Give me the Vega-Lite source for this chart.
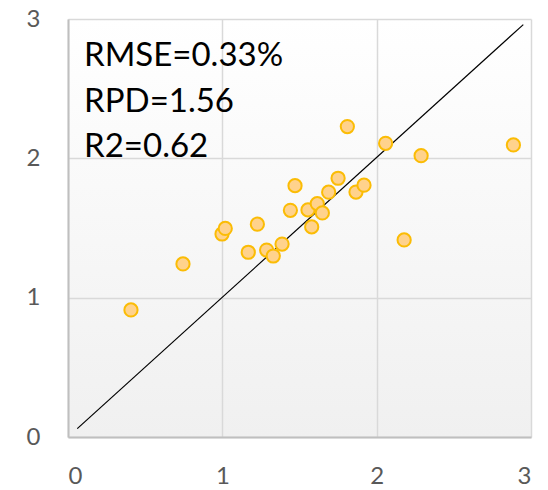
{
  "$schema": "https://vega.github.io/schema/vega-lite/v6.json",
  "autosize": "none",
  "padding": {"left": 68, "top": 19, "right": 17, "bottom": 53},
  "width": 463,
  "height": 418,
  "config": {
    "view": {
      "stroke": null,
      "fill": {"gradient": "linear", "x1": 0, "y1": 0, "x2": 0, "y2": 1, "stops": [{"offset": 0, "color": "#ffffff"}, {"offset": 1, "color": "#f0f0f0"}]}
    },
    "axis": {
      "labelFont": "Lato",
      "labelFontSize": 24,
      "labelColor": "#595959",
      "ticks": false,
      "gridColor": "#d9d9d9",
      "gridWidth": 1.5,
      "domainColor": "#bfbfbf",
      "domainWidth": 2,
      "title": null,
      "format": "d"
    }
  },
  "datasets": {
    "points": [
      {"measured": 0.408, "predicted": 0.912},
      {"measured": 0.745, "predicted": 1.242},
      {"measured": 0.998, "predicted": 1.457},
      {"measured": 1.019, "predicted": 1.497},
      {"measured": 1.168, "predicted": 1.326},
      {"measured": 1.227, "predicted": 1.527},
      {"measured": 1.287, "predicted": 1.342},
      {"measured": 1.330, "predicted": 1.299},
      {"measured": 1.387, "predicted": 1.385},
      {"measured": 1.441, "predicted": 1.627},
      {"measured": 1.471, "predicted": 1.804},
      {"measured": 1.555, "predicted": 1.630},
      {"measured": 1.579, "predicted": 1.508},
      {"measured": 1.615, "predicted": 1.675},
      {"measured": 1.648, "predicted": 1.608},
      {"measured": 1.689, "predicted": 1.757},
      {"measured": 1.750, "predicted": 1.857},
      {"measured": 1.810, "predicted": 2.228},
      {"measured": 1.866, "predicted": 1.758},
      {"measured": 1.918, "predicted": 1.807},
      {"measured": 2.058, "predicted": 2.108},
      {"measured": 2.178, "predicted": 1.414},
      {"measured": 2.288, "predicted": 2.019},
      {"measured": 2.886, "predicted": 2.096}
    ],
    "oneToOne": [
      {"measured": 0.06, "predicted": 0.06},
      {"measured": 2.95, "predicted": 2.96}
    ],
    "stats": [
      {"label": "RMSE=0.33%", "x": 0.104, "y": 2.665},
      {"label": "RPD=1.56", "x": 0.104, "y": 2.333},
      {"label": "R2=0.62", "x": 0.104, "y": 2.01}
    ]
  },
  "layer": [
    {
      "data": {"name": "stats"},
      "mark": {"type": "text", "align": "left", "baseline": "alphabetic", "font": "Lato", "fontSize": 33, "color": "#000000"},
      "encoding": {
        "x": {"field": "x", "type": "quantitative", "scale": {"domain": [0, 3]}, "axis": {"values": [0, 1, 2, 3], "labelPadding": 27, "grid": true, "labelBaseline": "top"}},
        "y": {"field": "y", "type": "quantitative", "scale": {"domain": [0, 3]}, "axis": {"values": [0, 1, 2, 3], "labelPadding": 28, "grid": true}},
        "text": {"field": "label"}
      }
    },
    {
      "data": {"name": "oneToOne"},
      "mark": {"type": "line", "color": "#000000", "strokeWidth": 1.2},
      "encoding": {
        "x": {"field": "measured", "type": "quantitative"},
        "y": {"field": "predicted", "type": "quantitative"}
      }
    },
    {
      "data": {"name": "points"},
      "mark": {"type": "point", "shape": "circle", "filled": true, "size": 175, "fill": "#ffd28c", "stroke": "#fbbc05", "strokeWidth": 2, "opacity": 1},
      "encoding": {
        "x": {"field": "measured", "type": "quantitative"},
        "y": {"field": "predicted", "type": "quantitative"}
      }
    }
  ]
}
